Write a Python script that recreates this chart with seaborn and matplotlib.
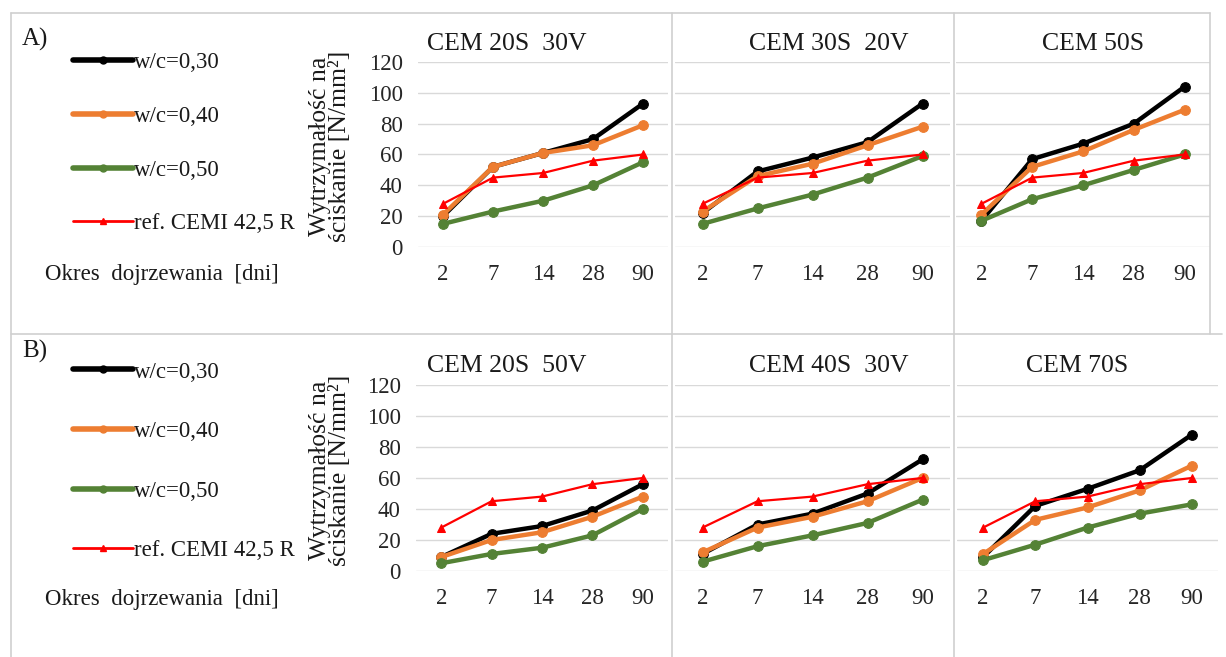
import matplotlib
matplotlib.use("Agg")
import matplotlib.pyplot as plt
from matplotlib.lines import Line2D
import pandas as pd
import seaborn as sns


# ---------------- DATA ----------------
ages = ["2", "7", "14", "28", "90"]
ref_cem1 = [28, 45, 48, 56, 60]

cem20s30v_030 = [20, 52, 61, 70, 93]
cem20s30v_040 = [21, 52, 61, 66, 79]
cem20s30v_050 = [15, 23, 30, 40, 55]

cem30s20v_030 = [22, 49, 58, 68, 93]
cem30s20v_040 = [23, 46, 54, 66, 78]
cem30s20v_050 = [15, 25, 34, 45, 59]

cem50s_030 = [17, 57, 67, 80, 104]
cem50s_040 = [21, 52, 62, 76, 89]
cem50s_050 = [17, 31, 40, 50, 60]

cem20s50v_030 = [9, 24, 29, 39, 56]
cem20s50v_040 = [9, 20, 25, 35, 48]
cem20s50v_050 = [5, 11, 15, 23, 40]

cem40s30v_030 = [11, 30, 37, 50, 72]
cem40s30v_040 = [12, 28, 35, 45, 60]
cem40s30v_050 = [6, 16, 23, 31, 46]

cem70s_030 = [9, 42, 53, 65, 88]
cem70s_040 = [11, 33, 41, 52, 68]
cem70s_050 = [7, 17, 28, 37, 43]

series_names = ["w/c=0,30", "w/c=0,40", "w/c=0,50", "ref. CEMI 42,5 R"]
panel_titles = ["CEM 20S  30V", "CEM 30S  20V", "CEM 50S",
                "CEM 20S  50V", "CEM 40S  30V", "CEM 70S"]
panel_data = [
    [cem20s30v_030, cem20s30v_040, cem20s30v_050, ref_cem1],
    [cem30s20v_030, cem30s20v_040, cem30s20v_050, ref_cem1],
    [cem50s_030, cem50s_040, cem50s_050, ref_cem1],
    [cem20s50v_030, cem20s50v_040, cem20s50v_050, ref_cem1],
    [cem40s30v_030, cem40s30v_040, cem40s30v_050, ref_cem1],
    [cem70s_030, cem70s_040, cem70s_050, ref_cem1],
]


# ---------------- STYLE ----------------
sns.set_style("white")
plt.rcParams["font.family"] = ["Liberation Serif", "DejaVu Serif"]
plt.rcParams["text.color"] = "#1a1a1a"

colors = ["#000000", "#ED7D31", "#548235", "#FF0000"]
markers = ["o", "o", "o", "^"]
widths = [3.2, 3.2, 3.2, 1.6]
msizes = [7, 7, 7, 6]
grid_col = "#d9d9d9"
border_col = "#cfcfcf"
fs = 16.5

W, H = 1226, 657
fig = plt.figure(figsize=(W / 100, H / 100), dpi=100)


def fx(px):
    return px / W


def fy(py):
    return 1 - py / H


# axes boxes in pixels: left, right, top(120), bottom(0)
boxes = [
    (418, 668, 62, 247), (675, 950, 62, 247), (956, 1210, 62, 247),
    (416, 668, 385, 571), (675, 950, 385, 571), (957, 1218, 385, 571),
]
title_x = [0.356, 0.56, 0.54, 0.36, 0.56, 0.46]

for i, (l, r, t, b) in enumerate(boxes):
    ax = fig.add_axes([fx(l), fy(b), fx(r) - fx(l), fy(t) - fy(b)])
    for name, vals, c, m, lw, ms in zip(series_names, panel_data[i], colors,
                                        markers, widths, msizes):
        df = pd.DataFrame({"age": ages, "value": vals})
        sns.lineplot(data=df, x="age", y="value", ax=ax, color=c, marker=m,
                     linewidth=lw, markersize=ms, markeredgecolor=c,
                     sort=False, legend=False)
    ax.set_xlim(-0.5, 4.5)
    ax.set_ylim(0, 120)
    ax.set_yticks(range(0, 121, 20))
    ax.yaxis.grid(True, color=grid_col, linewidth=1)
    ax.xaxis.grid(False)
    for s in ax.spines.values():
        s.set_visible(False)
    ax.set_xlabel("")
    ax.set_ylabel("")
    ax.tick_params(axis="both", length=0, labelsize=fs)
    ax.tick_params(axis="x", pad=12)
    ax.tick_params(axis="y", pad=11)
    if i % 3 != 0:
        ax.set_yticklabels([])
    ax.set_title(panel_titles[i], fontsize=18.5, x=title_x[i], pad=9)


# ---------------- Y LABELS ----------------
for yc in [146, 470]:
    fig.text(fx(330), fy(yc), "Wytrzymałość na\nściskanie [N/mm²]",
             rotation=90, ha="center", va="center", fontsize=18.5,
             multialignment="center", linespacing=0.85)


# ---------------- LEGENDS ----------------
handles = [Line2D([], [], color=c, marker=m, linewidth=lw, markersize=5,
                  markeredgecolor=c)
           for c, m, lw in zip(colors, markers, [4, 4, 4, 2])]

# (legend top, tag top, legend spacing, "Okres" y)
for top, tag, tag_y, spacing, okres_y in [(41, "A)", 28, 1.42, 275),
                                           (350, "B)", 340, 1.68, 600)]:
    fig.text(fx(22), fy(tag_y), tag, fontsize=18, va="top", ha="left")
    fig.legend(handles, series_names, loc="upper left",
               bbox_to_anchor=(fx(62), fy(top)), frameon=False,
               fontsize=fs, labelspacing=spacing, handlelength=2.6,
               handletextpad=0.05, borderpad=0)
    fig.text(fx(45), fy(okres_y), "Okres  dojrzewania  [dni]",
             fontsize=fs, va="center", ha="left")


# ---------------- BORDERS ----------------
def hline(y, x0, x1):
    fig.add_artist(Line2D([fx(x0), fx(x1)], [fy(y), fy(y)],
                          color=border_col, linewidth=1.2))


def vline(x, y0, y1):
    fig.add_artist(Line2D([fx(x), fx(x)], [fy(y0), fy(y1)],
                          color=border_col, linewidth=1.2))


hline(13, 11, 1210)
hline(334, 11, 1222)
vline(11, 13, 657)
vline(672, 13, 657)
vline(954, 13, 657)
vline(1210, 13, 334)

fig.savefig("out.png", dpi=100)
plt.close(fig)
